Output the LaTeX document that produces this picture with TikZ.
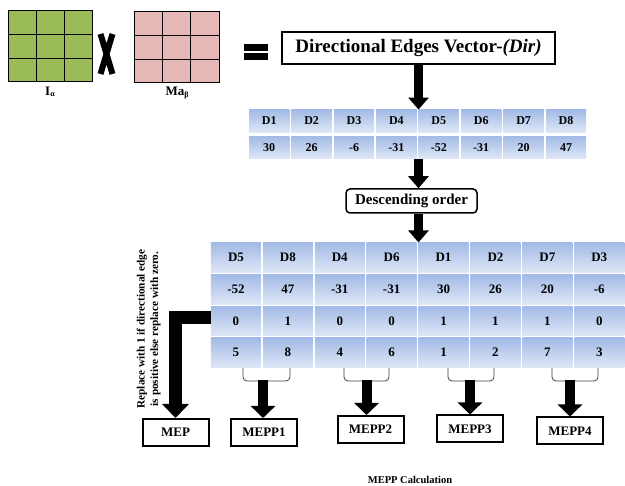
\documentclass[tikz,border=0pt]{standalone}
\usepackage{fontspec}
\setmainfont{Liberation Serif}
\usetikzlibrary{arrows.meta,calc}
\definecolor{gridgreen}{HTML}{9BBB59}
\definecolor{gridpink}{HTML}{E6B9B8}
\definecolor{celltop}{HTML}{A2BAE6}
\definecolor{cellbot}{HTML}{DFE7F6}
\definecolor{brkcol}{HTML}{404040}
\newcommand{\fsz}[1]{\fontsize{#1}{#1}\selectfont}
\begin{document}
\begin{tikzpicture}[x=1pt,y=-1pt,
  cellone/.style={inner sep=0, minimum width=40.4pt, minimum height=22.5pt, top color=celltop, bottom color=cellbot, font=\bfseries\fsz{12}},
  celltwo/.style={inner sep=0, minimum width=50pt, minimum height=29.7pt, top color=celltop, bottom color=cellbot, font=\bfseries\fsz{13}},
  outbox/.style={draw, line width=2pt, inner sep=0, minimum width=66pt, minimum height=27pt, font=\bfseries\fsz{13}},
  bigarrow/.style={line width=9pt, -{Triangle[width=20pt,length=12pt]}},
  downarrow/.style={line width=10pt, -{Triangle[width=24pt,length=12pt]}},
  elbowarrow/.style={line width=13pt, miter limit=10, line join=miter, -{Triangle[width=26pt,length=14pt]}},
  brk/.style={draw=brkcol, line width=0.8pt, rounded corners=4pt}]
\useasboundingbox (0,0) rectangle (625,486);

% matrices
\draw[fill=gridgreen, line width=1pt] (8,11) rectangle (92,82);
\draw[line width=1pt] (36,11) -- (36,82) (64,11) -- (64,82) (8,34.7) -- (92,34.7) (8,58.3) -- (92,58.3);
\draw[fill=gridpink, line width=1pt] (134,12) rectangle (219,83);
\draw[line width=1pt] (162.3,12) -- (162.3,83) (190.7,12) -- (190.7,83) (134,35.7) -- (219,35.7) (134,59.3) -- (219,59.3);
\node[font=\bfseries\fsz{13}] (lblI) at (50,92) {I\raisebox{-1.5pt}{\fsz{8}α}};
\node[font=\bfseries\fsz{13}] (lblM) at (177,93) {Ma\raisebox{-1.5pt}{\fsz{8}β}};

% times sign
\draw[line width=6pt] (100.5,34) -- (112.5,74) (112.5,34) -- (100.5,74);
% equals sign
\fill (244,44) rectangle (268,51);
\fill (244,53) rectangle (268,60);

% title
\node[draw, line width=1.2pt, minimum width=273pt, minimum height=32pt, inner sep=0, font=\bfseries\fsz{19}] (title) at (418.5,48) {Directional Edges Vector-\textit{(Dir)}};

% table 1
\foreach \t [count=\i] in {D1,D2,D3,D4,D5,D6,D7,D8}
  \node[cellone] (t1r1c\i) at ({248+42.4*(\i-0.5)},121) {\t};
\foreach \t [count=\i] in {30,26,-6,-31,-52,-31,20,47}
  \node[cellone] (t1r2c\i) at ({248+42.4*(\i-0.5)},147.5) {\t};

% descending
\node[draw, rounded corners=4pt, line width=1.5pt, minimum width=131pt, minimum height=24pt, inner sep=0, font=\bfseries\fsz{15}] (desc) at (411.5,201) {Descending order};

% table 2
\foreach \row [count=\r] in {{D5,D8,D4,D6,D1,D2,D7,D3},{-52,47,-31,-31,30,26,20,-6},{0,1,0,0,1,1,1,0},{5,8,4,6,1,2,7,3}}
  \foreach \t [count=\c] in \row
    \node[celltwo] (t2r\r c\c) at ({210+51.9*(\c-0.5)},{257.5+31.7*(\r-1)}) {\t};

% arrows between stages
\draw[bigarrow] (title.south) -- (title.south |- t1r1c5.north);
\draw[bigarrow] (title.south |- t1r2c5.south) -- (title.south |- desc.north);
\draw[bigarrow] (title.south |- desc.south) -- (title.south |- t2r1c5.north);

% output boxes
\node[outbox] (mep) at (175.5,432.5) {MEP};
\node[outbox] (m1) at (264,432.5) {MEPP1};
\node[outbox] (m2) at (370.5,429.5) {MEPP2};
\node[outbox] (m3) at (470,429) {MEPP3};
\node[outbox] (m4) at (570,431) {MEPP4};

% brackets
\foreach \xa/\xb in {243/290, 344/389, 448/494, 552/598}
  \draw[brk] (\xa,368) -- (\xa,381) -- (\xb,381) -- (\xb,368);
\coordinate (b1) at (263,380);
\coordinate (b2) at (366.5,380);
\coordinate (b3) at (470,380);
\coordinate (b4) at (570,380);
\draw[downarrow] (b1) -- (b1 |- m1.north);
\draw[downarrow] (b2) -- (b2 |- m2.north);
\draw[downarrow] (b3) -- (b3 |- m3.north);
\draw[downarrow] (b4) -- (b4 |- m4.north);

% MEP elbow arrow
\draw[elbowarrow] ([yshift=3pt]t2r3c1.west) -| (mep.north);

% rotated note
\node[rotate=90, align=center, font=\bfseries\fontsize{11.2}{13.5}\selectfont] (note) at (148.5,329) {Replace with 1 if directional edge\\is positive else replace with zero.};

% caption
\node[font=\bfseries\fsz{10.5}] (cap) at (410,480) {MEPP Calculation};
\end{tikzpicture}
\end{document}
